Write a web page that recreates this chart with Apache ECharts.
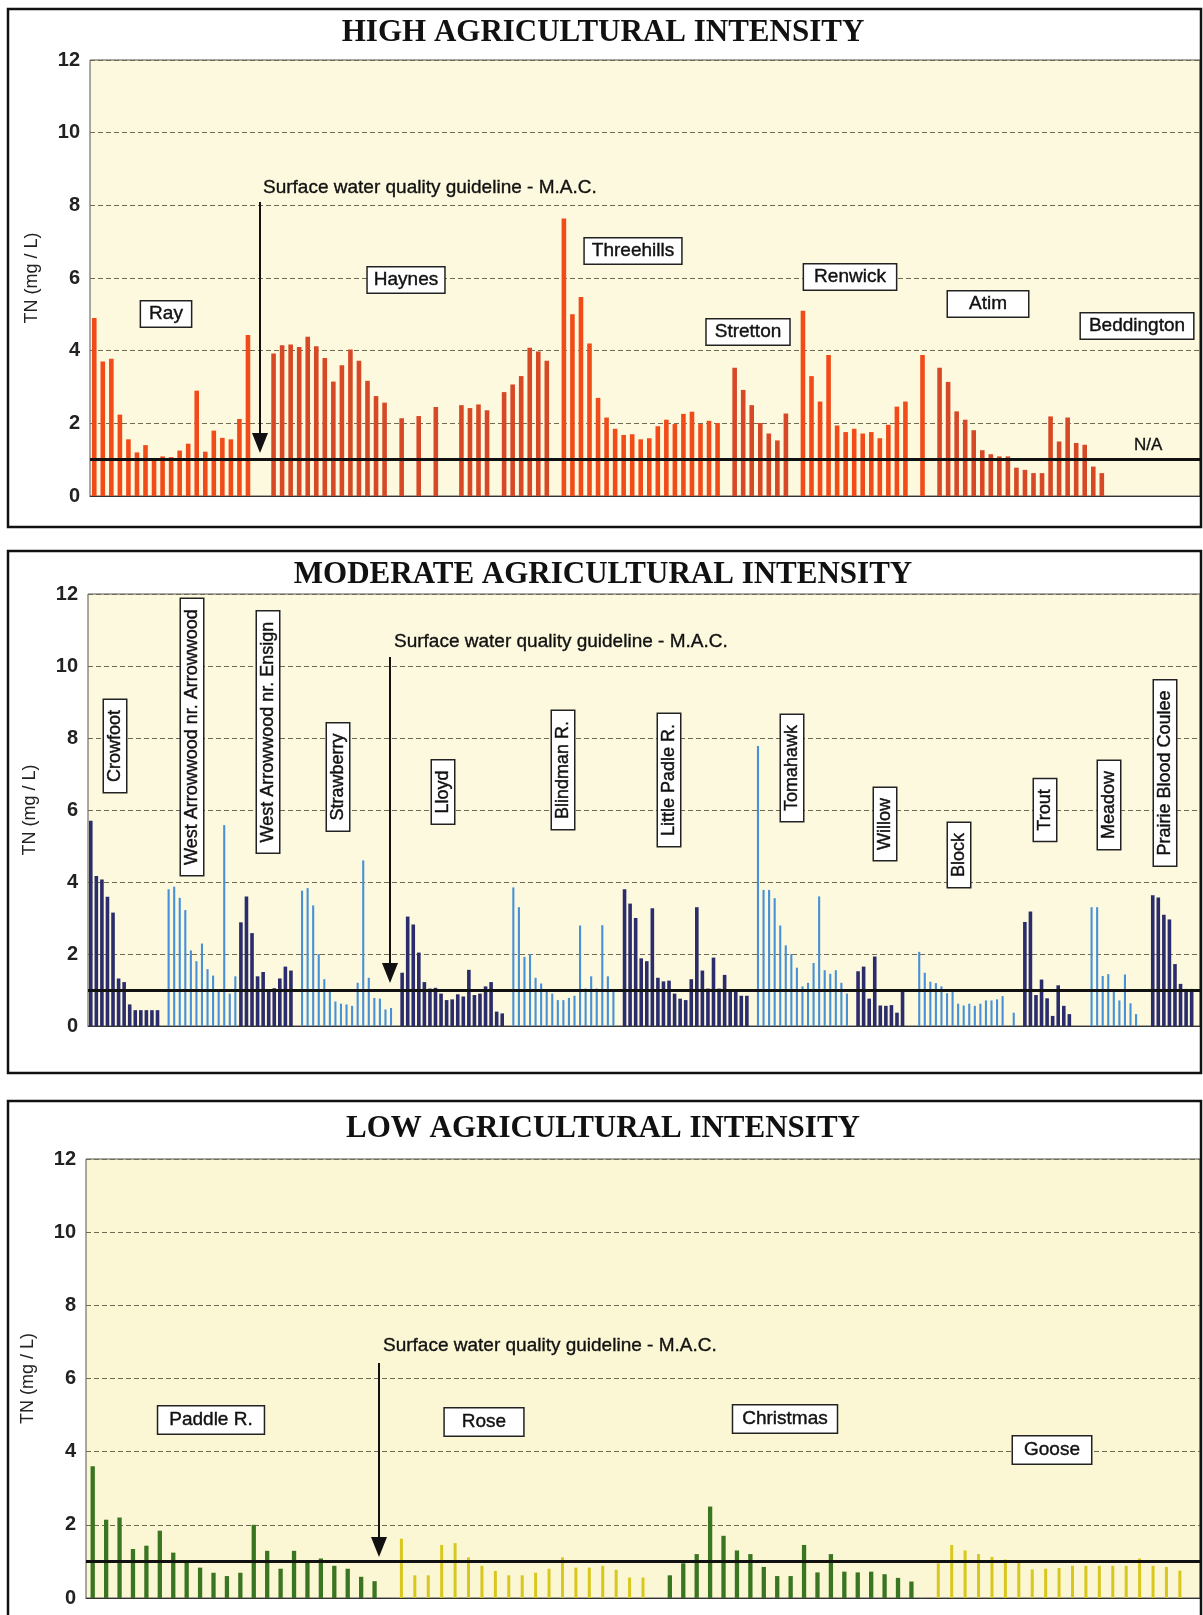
<!DOCTYPE html>
<html><head><meta charset="utf-8">
<script src="https://cdn.jsdelivr.net/npm/echarts@6/dist/echarts.min.js"></script>
<style>html,body{margin:0;padding:0;background:#fff}#c{width:1203px;height:1615px}</style>
</head><body><div id="c"></div>
<script>
// ---------------- DATA (TN, mg/L) ----------------
// HIGH agricultural intensity
const ray        = [4.9,3.7,3.78,2.24,1.56,1.2,1.4,1.03,1.09,1.07,1.25,1.44,2.9,1.22,1.8,1.6,1.56,2.12,4.43];
const haynes     = [3.92,4.15,4.17,4.1,4.38,4.12,3.8,3.15,3.6,4.03,3.72,3.17,2.75,2.57,null,2.14,null,2.2,null,2.45,null,null,2.5,2.42,2.52,2.36,null,2.86,3.07,3.3,4.08,3.98,3.72];
const threehills = [7.64,5.0,5.48,4.2,2.7,2.16,1.85,1.68,1.7,1.56,1.59,1.92,2.1,1.98,2.26,2.32,1.98,2.07,2.01];
const stretton   = [3.53,2.92,2.5,2.01,1.72,1.53,2.27];
const renwick    = [5.1,3.3,2.6,3.88,1.94,1.76,1.85,1.72,1.76,1.59,1.96,2.46,2.6,null,3.88];
const atim       = [3.53,3.14,2.33,2.1,1.81,1.26,1.15,1.09,1.09,0.78,0.72,0.63,0.63,2.19,1.5,2.16,1.46,1.41,0.81,0.63];
const beddington = []; // N/A
// MODERATE agricultural intensity
const crowfoot    = [5.7,4.17,4.07,3.59,3.15,1.32,1.22,0.6,0.44,0.44,0.44,0.44,0.44];
const waArrowwood = [3.8,3.87,3.56,3.22,2.1,1.8,2.29,1.58,1.4,0.95,5.58,0.9,1.38];
const waEnsign    = [2.88,3.6,2.58,1.38,1.5,0.95,1.05,1.32,1.65,1.54];
const strawberry  = [3.76,3.83,3.35,2.0,1.3,0.95,0.68,0.62,0.6,0.56,1.2,4.6,1.34,0.78,0.76,0.46,0.5];
const lloyd       = [1.48,3.04,2.82,2.04,1.22,1.04,1.06,0.9,0.72,0.74,0.88,0.82,1.56,0.86,0.9,1.1,1.22,0.4,0.35];
const blindman    = [3.85,3.3,1.92,2.0,1.34,1.18,1.0,0.9,0.72,0.72,0.78,0.84,2.79,1.04,1.38,1.04,2.8,1.38,1.0];
const littlePadle = [3.8,3.4,3.0,1.88,1.8,3.27,1.34,1.24,1.26,0.9,0.76,0.72,1.3,3.3,1.54,1.04,1.9,1.04,1.42,1.0,0.98,0.84,0.84];
const tomahawk    = [7.78,3.78,3.78,3.55,2.79,2.24,2.0,1.62,1.1,1.2,1.75,3.6,1.55,1.45,1.55,1.2,0.9];
const willow      = [1.52,1.65,0.76,1.93,0.57,0.56,0.58,0.37,0.98];
const block       = [2.06,1.48,1.23,1.19,1.1,0.91,0.97,0.62,0.57,0.62,0.56,0.62,0.71,0.71,0.74,0.83,null,0.37];
const trout       = [2.89,3.18,0.86,1.29,0.77,0.28,1.13,0.56,0.33];
const meadow      = [3.3,3.3,1.39,1.44,1.03,0.71,1.43,0.63,0.33];
const prairie     = [3.63,3.57,3.09,2.96,1.72,1.17,1.03,1.03];
// LOW agricultural intensity
const paddle    = [3.6,2.14,2.2,1.34,1.43,1.84,1.24,0.97,0.83,0.69,0.6,0.69,2.0,1.29,0.8,1.29,0.97,1.08,0.88,0.8,0.58,0.46];
const rose      = [1.62,0.62,0.62,1.45,1.5,1.11,0.88,0.74,0.62,0.62,0.69,0.8,1.11,0.83,0.83,0.88,0.77,0.56,0.56];
const christmas = [0.62,0.95,1.2,2.5,1.7,1.3,1.2,0.85,0.6,0.6,1.45,0.7,1.2,0.72,0.7,0.72,0.65,0.55,0.45];
const goose     = [0.95,1.45,1.3,1.2,1.12,1.05,1.0,0.78,0.8,0.82,0.88,0.88,0.88,0.88,0.88,1.08,0.88,0.85,0.75];

const guideline = 1.0;           // surface water quality guideline - M.A.C.
const yMin = 0, yMax = 12, yStep = 2;

// order of streams along each axis: [colour group, values] or number of empty slots
const highOrder = [['a',ray],2,['b',haynes],1,['a',threehills],1,['b',stretton],1,['a',renwick],1,['b',atim],1,['a',beddington],10];
const modOrder  = [['a',crowfoot],1,['b',waArrowwood],['a',waEnsign],1,['b',strawberry],1,['a',lloyd],1,['b',blindman],1,
                   ['a',littlePadle],1,['b',tomahawk],1,['a',willow],2,['b',block],1,['a',trout],3,['b',meadow],2,['a',prairie],1];
const lowOrder  = [['a',paddle],1,['b',rose],1,['a',christmas],1,['b',goose],1];

function build(order){
  const A=[],B=[];
  order.forEach(g=>{
    if(typeof g==='number'){ for(let i=0;i<g;i++){A.push(null);B.push(null);} }
    else g[1].forEach(v=>{ if(g[0]==='a'){A.push(v);B.push(null);} else {A.push(null);B.push(v);} });
  });
  return [A,B];
}
const panels = [
  {order:highOrder, colors:['#f24b1a','#d64826'], widths:[4.6,4.6], bg:'#fcf9de',
   grid:{left:90, top:60, width:1110, height:436}},
  {order:modOrder,  colors:['#2b2c6b','#4890d8'], widths:[3.6,2.1], bg:'#fcf9de',
   grid:{left:88, top:594, width:1112, height:432}},
  {order:lowOrder,  colors:['#3a7521','#d8c81e'], widths:[4.3,3.0], bg:'#fbf6d3',
   grid:{left:86, top:1159, width:1114, height:439}},
];

const SANS = '"Liberation Sans", Arial, sans-serif';
const option = {animation:false, backgroundColor:'#fff', grid:[], xAxis:[], yAxis:[], series:[], graphic:[]};
panels.forEach((p,k)=>{
  const [A,B] = build(p.order);
  const cats = A.map((_,i)=>String(i));
  option.grid.push(Object.assign({show:true, backgroundColor:p.bg, borderColor:'#555', borderWidth:1}, p.grid));
  [0,1].forEach(j=>{
    option.xAxis.push({type:'category', gridIndex:k, data:cats, show:j===0,
      axisLine:{show:true, lineStyle:{color:'#333', width:1}}, axisTick:{show:false}, axisLabel:{show:false}, splitLine:{show:false}});
  });
  option.yAxis.push({type:'value', gridIndex:k, min:yMin, max:yMax, interval:yStep,
    axisLine:{show:false}, axisTick:{show:false},
    axisLabel:{fontFamily:SANS, fontWeight:'bold', fontSize:20, color:'#222', margin:10},
    splitLine:{show:true, lineStyle:{color:'#6f6a52', width:1, type:[5,3]}},
    name:'TN (mg / L)', nameLocation:'middle', nameGap:49,
    nameTextStyle:{fontFamily:SANS, fontSize:18, color:'#222'}});
  [A,B].forEach((d,j)=>{
    const s = {type:'bar', xAxisIndex:k*2+j, yAxisIndex:k, data:d, barWidth:p.widths[j],
      itemStyle:{color:p.colors[j]}, silent:true, z:2};
    if(j===1) s.markLine = {silent:true, symbol:'none', label:{show:false}, z:5,
      lineStyle:{color:'#111', width:3, type:'solid'}, data:[{yAxis:guideline}]};
    option.series.push(s);
  });
});

// ---------------- annotations ----------------
const G = option.graphic;
function box(x,y,w,h){ G.push({type:'rect', shape:{x,y,width:w,height:h}, style:{fill:'none', stroke:'#111', lineWidth:2.5}, z:50}); }
function title(txt,y){ G.push({type:'text', x:603, y, style:{text:txt, font:'bold 31px "Liberation Serif", "Times New Roman", serif', fill:'#111',
  align:'center', verticalAlign:'middle', textAlign:'center', textVerticalAlign:'middle'}, z:50}); }
function lab(txt,x,y,size,rot,pad){ G.push({type:'text', x, y, rotation:rot?Math.PI/2:0, style:{text:txt, font:size+'px '+SANS, fill:'#111',
  stroke:'#111', lineWidth:0.4,
  align:'center', verticalAlign:'middle', textAlign:'center', textVerticalAlign:'middle',
  backgroundColor:'#fff', borderColor:'#222', borderWidth:1.5, padding:pad}, z:60}); }
function note(txt,x,y,size){ G.push({type:'text', x, y, style:{text:txt, font:size+'px '+SANS, fill:'#111',
  stroke:'#111', lineWidth:0.35,
  align:'left', verticalAlign:'middle', textAlign:'left', textVerticalAlign:'middle'}, z:60}); }
function arrow(x,y1,y2){
  G.push({type:'line', shape:{x1:x,y1:y1,x2:x,y2:y2-18}, style:{stroke:'#111', lineWidth:2}, z:60});
  G.push({type:'polygon', shape:{points:[[x-8,y2-20],[x+8,y2-20],[x,y2]]}, style:{fill:'#111'}, z:60});
}
// panel frames
box(8,9,1193,518); box(8,551,1193,522); box(8,1101,1193,530);
title('HIGH AGRICULTURAL INTENSITY',33);
title('MODERATE AGRICULTURAL INTENSITY',575);
title('LOW AGRICULTURAL INTENSITY',1129);
const gtext = 'Surface water quality guideline - M.A.C.';
note(gtext,263,188,19); arrow(260,202,453);
note(gtext,394,642,19); arrow(390,657,983);
note(gtext,383,1346,19); arrow(379,1363,1557);
note('N/A',1134,445,17);
// high labels
[['Ray',166,314,[3,8]],['Haynes',406,280,[3,6]],['Threehills',633,251,[3,7]],['Stretton',748,332,[3,8]],
 ['Renwick',850,277,[3,10]],['Atim',988,304,[3,21]],['Beddington',1137,326,[3,8]]]
  .forEach(a=>lab(a[0],a[1],a[2],19,false,a[3]));
// moderate labels (vertical)
[['Crowfoot',115,746],['West Arrowwood nr. Arrowwood',192,737],['West Arrowwood nr. Ensign',268,732],['Strawberry',338,777],
 ['Lloyd',443,792],['Blindman R.',563,770],['Little Padle R.',669,780],['Tomahawk',792,768],['Willow',885,824],
 ['Block',959,855],['Trout',1045,810],['Meadow',1109,805],['Prairie Blood Coulee',1165,773]]
  .forEach(a=>lab(a[0],a[1],a[2],18,true,[2,10]));
// low labels
[['Paddle R.',211,1420,[4,11]],['Rose',484,1422,[4,17]],['Christmas',785,1419,[4,9]],['Goose',1052,1450,[4,11]]]
  .forEach(a=>lab(a[0],a[1],a[2],19,false,a[3]));

const chart = echarts.init(document.getElementById('c'), null, {renderer:'canvas'});
chart.setOption(option);
</script></body></html>
